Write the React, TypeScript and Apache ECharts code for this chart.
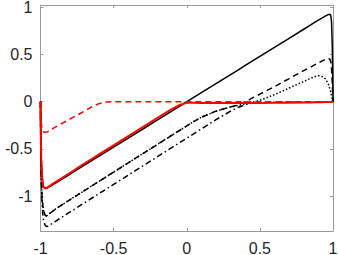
import React, { useEffect, useRef } from "react";
import * as echarts from "echarts";

const X = [-1, -0.999, -0.997, -0.995, -0.99, -0.985, -0.98, -0.97, -0.96, -0.95, -0.9, -0.8, -0.7, -0.65, -0.6, -0.55, -0.5, -0.4, -0.3, -0.2, -0.1, -0.05, 0, 0.05, 0.1, 0.2, 0.3, 0.35, 0.4, 0.45, 0.5, 0.6, 0.7, 0.8, 0.85, 0.88, 0.9, 0.93, 0.95, 0.97, 0.98, 0.985, 0.99, 0.995, 0.998, 1];

const blackSolid = [0, -0.2, -0.45, -0.6, -0.78, -0.86, -0.9, -0.92, -0.918, -0.91, -0.865, -0.77, -0.673, -0.625, -0.577, -0.529, -0.481, -0.385, -0.289, -0.193, -0.097, -0.049, 0, 0.048, 0.096, 0.192, 0.288, 0.336, 0.384, 0.432, 0.48, 0.576, 0.672, 0.768, 0.816, 0.845, 0.864, 0.892, 0.91, 0.925, 0.925, 0.91, 0.85, 0.6, 0.3, 0];

const blackDashed = [0, -0.25, -0.55, -0.75, -0.98, -1.09, -1.15, -1.2, -1.212, -1.2, -1.14, -1.04, -0.942, -0.893, -0.844, -0.795, -0.746, -0.648, -0.55, -0.452, -0.354, -0.305, -0.256, -0.208, -0.165, -0.1, -0.055, -0.035, 0.0, 0.04, 0.08, 0.16, 0.245, 0.33, 0.37, 0.395, 0.41, 0.435, 0.45, 0.46, 0.45, 0.42, 0.35, 0.2, 0.08, 0];

const blackDotted = [0, -0.25, -0.55, -0.75, -0.98, -1.09, -1.15, -1.2, -1.212, -1.2, -1.14, -1.04, -0.942, -0.893, -0.844, -0.795, -0.746, -0.648, -0.55, -0.452, -0.354, -0.305, -0.256, -0.208, -0.165, -0.1, -0.055, -0.04, -0.022, -0.005, 0.015, 0.075, 0.145, 0.215, 0.25, 0.268, 0.275, 0.265, 0.24, 0.18, 0.13, 0.1, 0.065, 0.03, 0.01, 0];

const blackDashDot = [0, -0.28, -0.6, -0.82, -1.06, -1.18, -1.25, -1.305, -1.322, -1.32, -1.27, -1.17, -1.072, -1.023, -0.974, -0.925, -0.876, -0.778, -0.68, -0.582, -0.484, -0.435, -0.386, -0.337, -0.288, -0.19, -0.1, -0.062, -0.032, -0.015, -0.008, -0.005, -0.005, -0.005, -0.005, -0.005, -0.005, -0.005, -0.005, -0.005, -0.004, -0.004, -0.003, -0.002, -0.001, 0];

const redSolid = [0, -0.2, -0.45, -0.6, -0.78, -0.86, -0.9, -0.918, -0.915, -0.905, -0.855, -0.755, -0.655, -0.607, -0.558, -0.51, -0.462, -0.365, -0.268, -0.17, -0.075, -0.035, -0.012, -0.012, -0.013, -0.013, -0.013, -0.013, -0.013, -0.013, -0.013, -0.012, -0.01, -0.008, -0.007, -0.006, -0.006, -0.005, -0.004, -0.003, -0.002, -0.002, -0.001, -0.001, 0, 0];

const redDashed = [0, -0.08, -0.16, -0.22, -0.28, -0.305, -0.318, -0.325, -0.322, -0.318, -0.27, -0.185, -0.1, -0.055, -0.02, -0.004, 0, 0, 0, 0, 0, 0, 0, 0, 0, 0, 0, 0, 0, 0, 0, 0, 0, 0, 0, 0, 0, 0, 0, 0, 0, 0, 0, 0, 0, 0];

const tickValues = [-1, -0.5, 0, 0.5, 1];

const AXIS_COLOR = "#9a9a9a";
const TEXT_COLOR = "#262626";

export default function App() {
  const ref = useRef<HTMLDivElement>(null);
  useEffect(() => {
    const chart = echarts.init(ref.current!, null, { renderer: "svg" });
    const pts = (ys: number[]) => X.map((x, i) => [x, ys[i]]);
    const mk = (name: string, ys: number[], color: string, type: any, width = 1.5) => ({
      name,
      type: "line",
      data: pts(ys),
      showSymbol: false,
      symbol: "none",
      xAxisIndex: 0,
      yAxisIndex: 0,
      lineStyle: { color, width, type },
      z: 2,
    });
    const baseAxisLine = { show: true, onZero: false, lineStyle: { color: AXIS_COLOR, width: 1 } };
    const tick = { show: true, inside: true, length: 3, lineStyle: { color: AXIS_COLOR }, customValues: tickValues };
    const label = {
      color: TEXT_COLOR,
      fontSize: 16,
      fontFamily: "Liberation Sans, Arial, sans-serif",
      customValues: tickValues,
      formatter: (v: number) => String(v),
    };
    const xmin = -1, xmax = 1, ymin = -1.37, ymax = 1.025;
    chart.setOption({
      animation: false,
      backgroundColor: "#ffffff",
      grid: { left: 40.5, right: 5, top: 5, bottom: 24, containLabel: false, outerBoundsMode: "none" },
      xAxis: [
        { type: "value", min: xmin, max: xmax, position: "bottom", axisLine: baseAxisLine, axisTick: tick, axisLabel: { ...label, margin: 9 }, splitLine: { show: false } },
        { type: "value", min: xmin, max: xmax, position: "top", axisLine: baseAxisLine, axisTick: tick, axisLabel: { show: false }, splitLine: { show: false } },
      ],
      yAxis: [
        { type: "value", min: ymin, max: ymax, position: "left", axisLine: baseAxisLine, axisTick: tick, axisLabel: { ...label, margin: 8 }, splitLine: { show: false } },
        { type: "value", min: ymin, max: ymax, position: "right", axisLine: baseAxisLine, axisTick: tick, axisLabel: { show: false }, splitLine: { show: false } },
      ],
      series: [
        mk("solid", blackSolid, "#000000", "solid"),
        mk("dashed", blackDashed, "#000000", [6, 4]),
        mk("dotted", blackDotted, "#000000", [1.5, 2]),
        mk("dashdot", blackDashDot, "#000000", [6, 3, 1.5, 3]),
        mk("redSolid", redSolid, "#ff0000", "solid", 2),
        mk("redDashed", redDashed, "#ff0000", [6, 4]),
      ],
    });
    return () => chart.dispose();
  }, []);
  return <div ref={ref} style={{ position: "fixed", left: 0, top: 0, width: 338, height: 255 }} />;
}
